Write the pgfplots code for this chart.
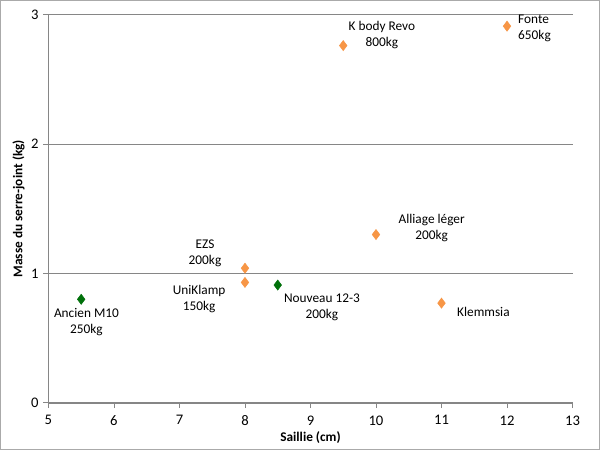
\documentclass[border=0pt]{standalone}
\usepackage{pgfplots}
\pgfplotsset{compat=1.18}
\usepackage{fontspec}
\setmainfont{Carlito}
\definecolor{exorange}{HTML}{F79646}
\definecolor{exgreen}{HTML}{00700A}
\definecolor{axgrey}{HTML}{868686}

\begin{document}
\begin{tikzpicture}[font=\fontsize{10}{12}\selectfont]
	% outer chart frame
	\draw[axgrey!70, line width=0.8pt, use as bounding box] (-36pt,-35.25pt) rectangle (414pt,302.25pt);
	\begin{axis}[
		at={(0,0)}, anchor=south west,
		width=393.75pt, height=291.75pt,
		scale only axis,
		xmin=5, xmax=13, ymin=0, ymax=3,
		xtick={5,6,...,13}, ytick={0,1,2,3},
		axis x line*=bottom, axis y line*=left,
		axis line style={axgrey, -},
		tick style={axgrey, line width=0.6pt},
		tick align=outside, major tick length=4pt,
		ymajorgrids=true,
		grid style={axgrey, line width=0.6pt},
		xlabel={\textbf{Saillie (cm)}},
		ylabel={\textbf{Masse du serre-joint (kg)}},
		xlabel style={yshift=2pt},
		ylabel style={yshift=-2pt},
		xticklabel style={yshift=-2pt},
		/pgf/number format/assume math mode=true,
		ticklabel style={font=\fontsize{11}{12}\selectfont},
		clip=false,
		]
		% existing models (green)
		\addplot[only marks, mark=diamond*, mark size=3.8pt, color=exgreen] coordinates {
			(5.5, 0.80)
			(8.5, 0.91)
		};
		% other models (orange)
		\addplot[only marks, mark=diamond*, mark size=3.8pt, color=exorange] coordinates {
			(8, 0.93)
			(8, 1.04)
			(10, 1.30)
			(11, 0.77)
			(9.5, 2.76)
			(12, 2.91)
		};
		% labels
		\node[align=center] at (axis cs:5.58,0.625) {Ancien M10\\250kg};
		\node[align=center] at (axis cs:7.30,0.80) {UniKlamp\\150kg};
		\node[align=center] at (axis cs:7.39,1.157) {EZS\\200kg};
		\node[align=center] at (axis cs:9.175,0.74) {Nouveau 12-3\\200kg};
		\node[align=center] at (axis cs:10.85,1.35) {Alliage léger\\200kg};
		\node[align=center] at (axis cs:11.64,0.70) {Klemmsia};
		\node[align=center] at (axis cs:10.09,2.84) {K body Revo\\800kg};
		\node[align=left] at (axis cs:12.42,2.89) {Fonte\\650kg};
	\end{axis}
\end{tikzpicture}
\end{document}
